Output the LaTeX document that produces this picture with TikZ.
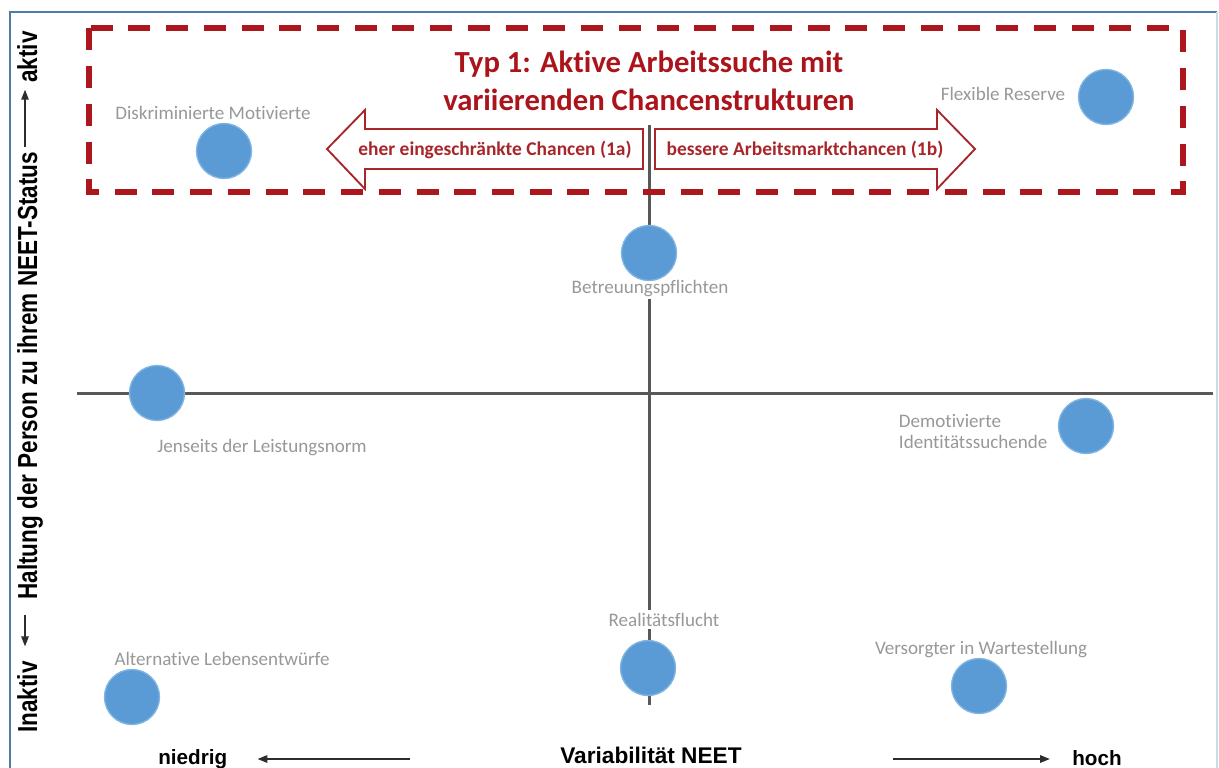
\documentclass[tikz,border=0pt]{standalone}
\usepackage{fontspec}
\setmainfont{Carlito}[Ligatures=CommonOff]
\newfontfamily\arialfont{Liberation Sans}
\usetikzlibrary{arrows.meta,calc}

\definecolor{boxred}{RGB}{172,22,28}
\definecolor{titlered}{RGB}{170,20,26}
\definecolor{arrowred}{RGB}{168,38,42}
\definecolor{dotblue}{RGB}{91,155,213}
\definecolor{dotrim}{RGB}{128,180,226}
\definecolor{labelgray}{RGB}{152,152,152}
\definecolor{axisgray}{RGB}{88,88,88}
\definecolor{framecol}{RGB}{78,124,170}
\definecolor{framelight}{RGB}{200,222,230}
\definecolor{inkdark}{RGB}{45,45,45}

\begin{document}
\begin{tikzpicture}[x=0.75pt,y=-0.75pt,
  dot/.style={circle,fill=dotblue,draw=dotrim,line width=1pt,minimum size=41.25pt,inner sep=0pt},
  lbl/.style={text=labelgray,font=\fontsize{14.3}{15.75}\selectfont,inner sep=2pt,fill=white},
  axisline/.style={axisgray,line width=2.25pt},
  blockarrow/.style={draw=arrowred,fill=white,line width=1.4pt,line join=miter},
  arrowtext/.style={text=arrowred,font=\bfseries\fontsize{14.6}{16}\selectfont,inner sep=0pt},
  axistext/.style={text=black,font=\arialfont\bfseries\fontsize{15.5}{18}\selectfont,inner sep=0pt},
  sidetext/.style={text=black,font=\arialfont\bfseries\fontsize{20.6}{24}\selectfont,inner sep=0pt,rotate=90,anchor=base west},
  pointer/.style={inkdark,line width=1.5pt,-{Triangle[length=7.5pt,width=5.5pt]}}
]
\useasboundingbox (0,0) rectangle (1219,767);

% outer frame
\draw[framecol,line width=1.5pt] (10,790) -- (10,12) -- (1217,12);
\draw[framelight,line width=1.5pt] (1217,12) -- (1217,790);

% the two axes
\coordinate (vtop) at (649,125);
\coordinate (vbot) at (649,705);
\coordinate (hleft) at (77,393);
\coordinate (hright) at (1213,393);
\draw[axisline] (vtop) -- (vbot);
\draw[axisline] (hleft) -- (hright);

% type 1 frame and its direction arrows
\draw[boxred,line width=4.5pt,dash pattern=on 16.5pt off 11.8pt] (89,28.5) rectangle (1183,191.5);

\draw[blockarrow] (643,129) -- (365,129) -- (365,110) -- (327,149) -- (365,189) -- (365,169) -- (643,169) -- cycle;
\draw[blockarrow] (655,129) -- (937,129) -- (937,110) -- (975,149) -- (937,189) -- (937,169) -- (655,169) -- cycle;
\node[arrowtext,anchor=base] (lowchance) at (495,155) {eher eingeschränkte Chancen (1a)};
\node[arrowtext,anchor=base] (highchance) at (805,155) {bessere Arbeitsmarktchancen (1b)};

\node[text=titlered,font=\bfseries\fontsize{23}{28.5}\selectfont,inner sep=0pt,anchor=base] (title) at (649,72)
  {\vtop{\halign{\hfil#\hfil\cr Typ 1: Aktive Arbeitssuche mit\cr variierenden Chancenstrukturen\cr}}};

% type labels (white ground hides the axis behind them)
\node[lbl,anchor=base] (disklbl) at (213,119) {Diskriminierte Motivierte};
\node[lbl,anchor=base] (flexlbl) at (1003,100) {Flexible Reserve};
\node[lbl,anchor=base] (betrlbl) at (650,293) {Betreuungspflichten};
\node[lbl,anchor=base] (jenslbl) at (262,452) {Jenseits der Leistungsnorm};
\node[lbl,anchor=base west] (demolbl) at (896,427) {\vtop{\hbox{Demotivierte}\hbox{Identitätssuchende}}};
\node[lbl,anchor=base] (altlbl) at (222,665) {Alternative Lebensentwürfe};
\node[lbl,anchor=base] (reallbl) at (664,626) {Realitätsflucht};
\node[lbl,anchor=base] (verslbl) at (981,654) {Versorgter in Wartestellung};

% type markers
\node[dot] (disk) at (224,151) {};
\node[dot] (flex) at (1106,97) {};
\node[dot] (betr) at (649,253) {};
\node[dot] (jens) at (157,393) {};
\node[dot] (demo) at (1086,426) {};
\node[dot] (alt) at (132,697) {};
\node[dot] (real) at (648,668) {};
\node[dot] (vers) at (979,686) {};

% horizontal axis caption
\node[axistext,anchor=base west] (niedrig) at (158,764) {niedrig};
\node[axistext,anchor=base,font=\arialfont\bfseries\fontsize{17}{20}\selectfont] (variab) at (651,763) {Variabilität NEET};
\node[axistext,anchor=base west] (hoch) at (1072,765) {hoch};
\coordinate (lowtail) at (410,759);
\coordinate (hightail) at (893,759);
\draw[pointer,shorten >=22.5pt] (lowtail) -- (lowtail -| niedrig.east);
\draw[pointer,shorten >=16.5pt] (hightail) -- (hightail -| hoch.west);

% vertical axis caption
\node[sidetext] (inaktiv) at (37,733) {\scalebox{0.82}[1]{Inaktiv}};
\node[sidetext] (haltung) at (37,600) {\scalebox{0.82}[1]{Haltung der Person zu ihrem NEET-Status}};
\node[sidetext] (aktiv) at (37,83) {\scalebox{0.82}[1]{aktiv}};
\coordinate (downtail) at (25,615);
\coordinate (uptail) at (25,147);
\draw[pointer,line width=1.2pt,shorten >=11pt] (downtail) -- (downtail |- inaktiv.east);
\draw[pointer,line width=1.2pt,shorten >=5pt] (uptail) -- (uptail |- aktiv.west);
\end{tikzpicture}
\end{document}
